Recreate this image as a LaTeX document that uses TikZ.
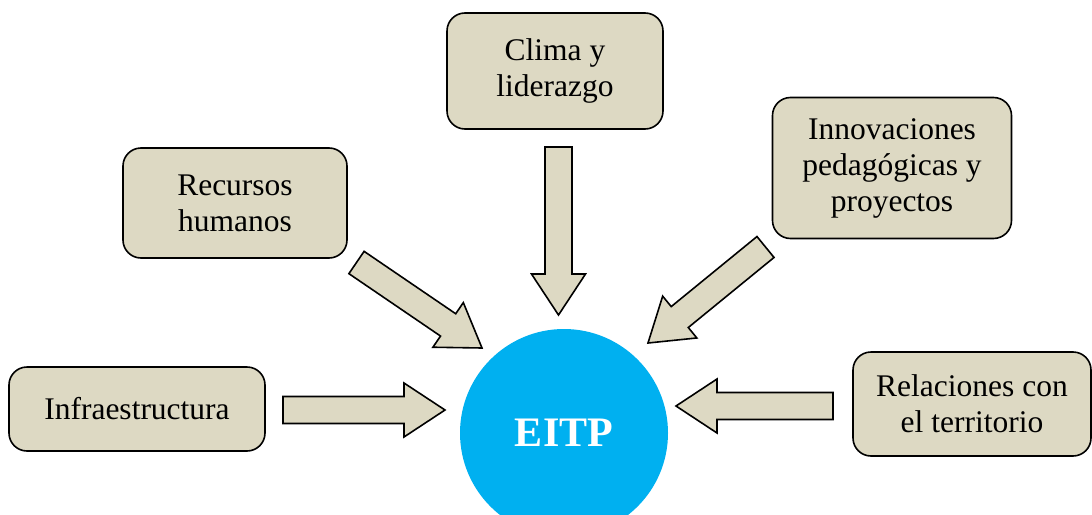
\documentclass[tikz,border=0pt]{standalone}
\usepackage{fontspec}
\setmainfont{Liberation Serif}
\usetikzlibrary{calc}

\definecolor{boxfill}{HTML}{DDD9C3}
\definecolor{eitpblue}{HTML}{00B0F0}

\begin{document}
\begin{tikzpicture}[x=1pt,y=-1pt,
    % styles
    factor/.style={draw=black,fill=boxfill,line width=1.6pt,rounded corners=18pt,
      align=center,inner sep=0pt,font=\fontsize{31.5}{36}\selectfont},
    core/.style={circle,fill=eitpblue,minimum size=208pt,inner sep=0pt,
      text=white,font=\fontsize{42}{48}\selectfont\bfseries},
    blockarrow/.style={draw=black,fill=boxfill,line width=1.6pt,line join=miter,
      to path={let \p1=(\tikztostart), \p2=(\tikztotarget),
        \n1={atan2(\y2-\y1,\x2-\x1)}, \n2={veclen(\x2-\x1,\y2-\y1)-41},
        \p3=($(\p1)+(\n1:\n2)$) in
        ($(\p1)+(\n1+90:13.5pt)$) -- ($(\p3)+(\n1+90:13.5pt)$)
        -- ($(\p3)+(\n1+90:27pt)$) -- (\p2) -- ($(\p3)+(\n1-90:27pt)$)
        -- ($(\p3)+(\n1-90:13.5pt)$) -- ($(\p1)+(\n1-90:13.5pt)$) -- cycle}}]

  % frame
  \clip (0,0) rectangle (1092,514);

  % factors
  \node[factor,minimum width=216pt,minimum height=116pt] (clima) at (555,71)
    {Clima y\\liderazgo};
  \node[factor,minimum width=224pt,minimum height=110pt] (recursos) at (235,203)
    {Recursos\\humanos};
  \node[factor,minimum width=239pt,minimum height=141pt] (innov) at (892,168)
    {Innovaciones\\pedagógicas y\\proyectos};
  \node[factor,minimum width=256pt,minimum height=84pt] (infra) at (137,409)
    {Infraestructura};
  \node[factor,minimum width=238pt,minimum height=104pt] (relac) at (972,404)
    {Relaciones con\\el territorio};

  % center
  \node[core] (eitp) at (564,433) {EITP};

  % arrow ends
  \coordinate (clima-a) at (558.5,147);
  \coordinate (clima-b) at (558.5,315);
  \coordinate (recursos-a) at (356.5,262.5);
  \coordinate (recursos-b) at (482,348);
  \coordinate (innov-a) at (765.5,247);
  \coordinate (innov-b) at (648,343);
  \coordinate (infra-a) at (283,410);
  \coordinate (infra-b) at (445,410);
  \coordinate (relac-a) at (833,406);
  \coordinate (relac-b) at (676,406);

  % arrows
  \foreach \f in {clima,recursos,innov,infra,relac}
    \draw[blockarrow] (\f-a) to (\f-b);
\end{tikzpicture}
\end{document}
